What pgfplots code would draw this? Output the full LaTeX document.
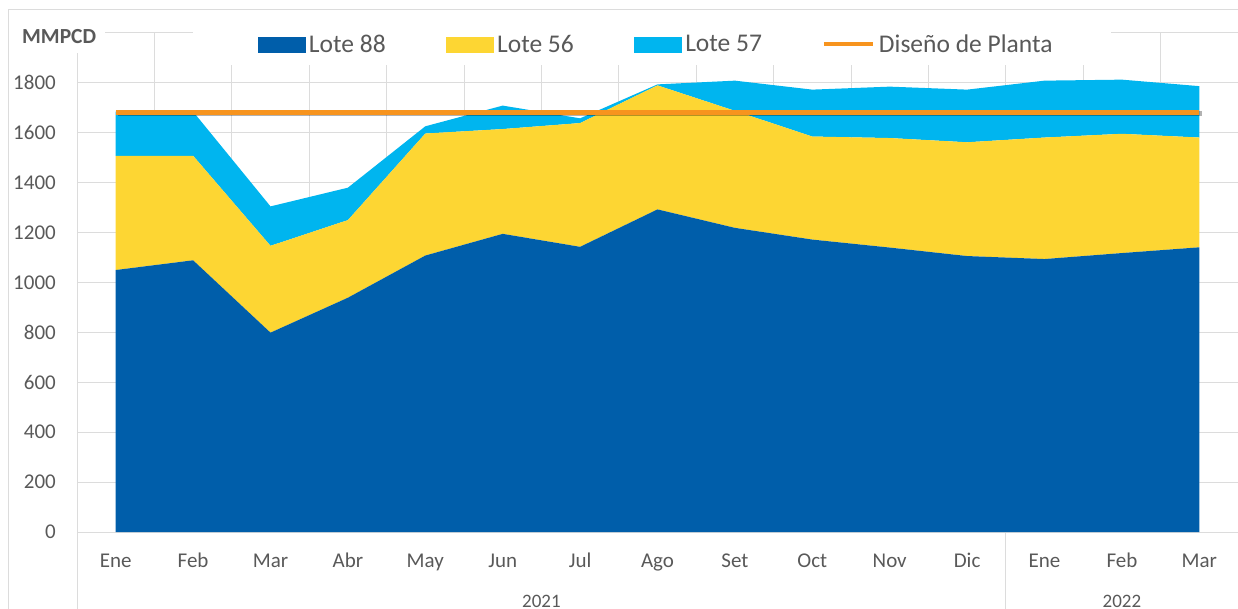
\documentclass[border=0pt]{standalone}
\usepackage{pgfplots}
\pgfplotsset{compat=1.18}
\usepackage{fontspec}
\setmainfont{Carlito}
\definecolor{cA}{RGB}{0,94,170}
\definecolor{cB}{RGB}{253,214,51}
\definecolor{cC}{RGB}{0,181,239}
\definecolor{cO}{RGB}{247,148,30}
\definecolor{gridc}{RGB}{220,220,220}
\definecolor{textc}{RGB}{89,89,89}
\pgfplotsset{
  geom/.style={at={(77bp,77bp)}, anchor=south west,
    scale only axis, width=1161bp, height=499bp,
    xmin=-0.5, xmax=14.5, ymin=0, ymax=2000, clip=false},
}
\begin{document}
\begin{tikzpicture}
\draw[gridc, line width=1bp] (8bp,-20bp) -- (8bp,599bp) -- (1260bp,599bp);
\begin{axis}[
  geom,
  stack plots=y,
  axis line style={draw=none},
  tick style={draw=none},
  xtick={0,...,14},
  xticklabels={Ene,Feb,Mar,Abr,May,Jun,Jul,Ago,Set,Oct,Nov,Dic,Ene,Feb,Mar},
  minor xtick={-0.5,0.5,...,14.5},
  xminorgrids, ymajorgrids,
  ytick={0,200,...,1800},
  extra y ticks={2000}, extra y tick labels={},
  major grid style={draw=gridc, line width=1bp},
  minor grid style={draw=gridc, line width=1bp},
  ticklabel style={font=\fontsize{21bp}{25bp}\selectfont, text=textc},
  /pgf/number format/assume math mode=true,
  /pgf/number format/1000 sep={},
  yticklabel style={anchor=east, inner sep=0pt, xshift=-21bp},
  xticklabel style={anchor=base, yshift=-35bp},
]
\addplot[fill=cA, draw=none]
  coordinates {(0,1050) (1,1089) (2,799) (3,939) (4,1108) (5,1195) (6,1143) (7,1293) (8,1219) (9,1172) (10,1140) (11,1106) (12,1094) (13,1118) (14,1141)} \closedcycle;
\addplot[fill=cB, draw=none]
  coordinates {(0,458) (1,419) (2,348) (3,311) (4,489) (5,420) (6,496) (7,497) (8,469) (9,413) (10,439) (11,456) (12,487) (13,478) (14,440)} \closedcycle;
\addplot[fill=cC, draw=none]
  coordinates {(0,177) (1,177) (2,158) (3,130) (4,29) (5,94) (6,19) (7,4) (8,121) (9,188) (10,206) (11,211) (12,228) (13,217) (14,206)} \closedcycle;
\fill[white] (axis description cs:0.0999,0.9359) rectangle (axis description cs:0.8906,1.03);
\draw[gridc, line width=1bp] (axis cs:-0.5,0) -- ([yshift=-100bp]axis cs:-0.5,0);
\draw[gridc, line width=1bp] (axis cs:11.5,0) -- ([yshift=-100bp]axis cs:11.5,0);
\node[anchor=base, font=\fontsize{19bp}{23bp}\selectfont, text=textc, yshift=-75bp] at (axis cs:5.5,0) {2021};
\node[anchor=base, font=\fontsize{19bp}{23bp}\selectfont, text=textc, yshift=-75bp] at (axis cs:13,0) {2022};
\end{axis}
\begin{axis}[
  geom,
  hide axis,
  legend style={at={(0.4996,0.977)}, anchor=center, draw=none, fill=none,
    font=\fontsize{25.5bp}{30bp}\selectfont, text=textc,
    /tikz/every even column/.append style={column sep=56bp},
    nodes={inner sep=4bp}},
  legend columns=4,
  legend cell align=left,
]
\addlegendimage{legend image code/.code={\fill[cA] (0bp,-7.5bp) rectangle (47bp,7.5bp);}}
\addlegendentry{Lote 88}
\addlegendimage{legend image code/.code={\fill[cB] (0bp,-7.5bp) rectangle (47bp,7.5bp);}}
\addlegendentry{Lote 56}
\addlegendimage{legend image code/.code={\fill[cC] (0bp,-7.5bp) rectangle (47bp,7.5bp);}}
\addlegendentry{Lote 57}
\addplot[forget plot, draw=black, draw opacity=0.3, line width=5bp]
  coordinates {(0.03,1676) (14.03,1676)};
\addplot[draw=cO, line width=5bp, legend image code/.code={\draw[cO, line width=4bp] (0bp,0bp) -- (49bp,0bp);}]
  coordinates {(0,1680) (14,1680)};
\addlegendentry{Diseño de Planta}
\end{axis}
\node[anchor=west, fill=white, inner xsep=9bp, inner ysep=9bp, font=\bfseries\fontsize{21.5bp}{25bp}\selectfont, text=textc] at (13bp,572bp) {MMPCD};
\pgfresetboundingbox
\useasboundingbox (0,0) rectangle (1238bp,609bp);
\end{tikzpicture}
\end{document}
